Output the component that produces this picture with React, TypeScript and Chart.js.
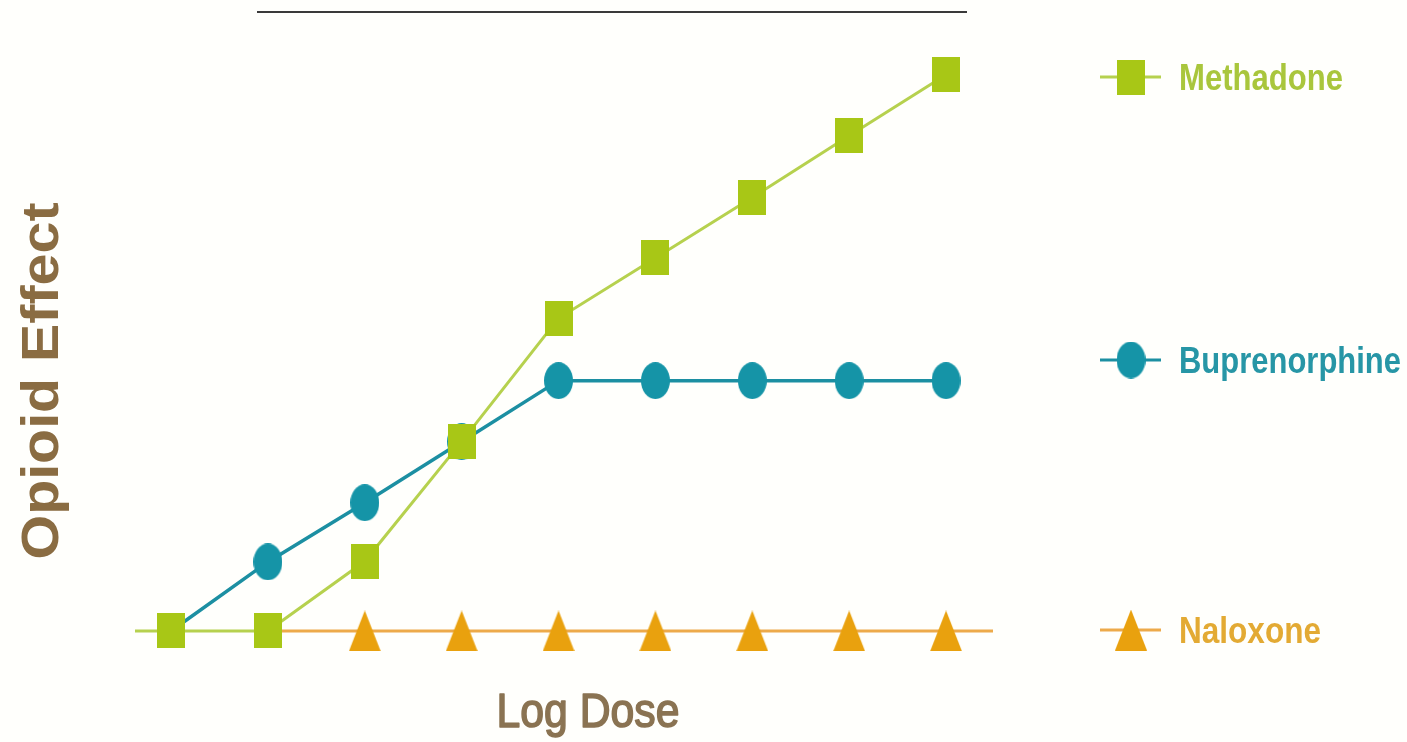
import React, { useEffect, useRef } from "react";
import { Chart, registerables } from "chart.js";

Chart.register(...registerables);

// ---- data ----
const doses = [1, 2, 3, 4, 5, 6, 7, 8, 9];
const methadone = [0, 0, 1.13, 3.07, 5.07, 6.05, 7.03, 8.03, 9.02];
const buprenorphine = [0, 1.12, 2.08, 3.07, 4.06, 4.06, 4.06, 4.06, 4.06];
const naloxone = [null, 0, 0, 0, 0, 0, 0, 0, 0];
const seriesNames = ["Methadone", "Buprenorphine", "Naloxone"];
const xAxisTitle = "Log Dose";
const yAxisTitle = "Opioid Effect";
const doseMin = 0.628;
const doseMax = 9.485;

const COLORS = {
  methadoneMarker: "#A8C716",
  methadoneLine: "#B6D14E",
  methadoneText: "#A9C63C",
  bupMarker: "#1594A7",
  bupLine: "#1C8FA2",
  bupText: "#2796A6",
  naloxMarker: "#E9A10E",
  naloxLine: "#EDAA4A",
  naloxText: "#E3AA33",
  axisText: "#8A6C42",
  xText: "#8A7352",
};

function makeMarker(shape: string, w: number, h: number, color: string) {
  const c = document.createElement("canvas");
  c.width = w;
  c.height = h;
  const ctx = c.getContext("2d")!;
  ctx.fillStyle = color;
  ctx.beginPath();
  if (shape === "square") {
    ctx.rect(0, 0, w, h);
  } else if (shape === "ellipse") {
    ctx.ellipse(w / 2, h / 2, w / 2, h / 2, 0, 0, Math.PI * 2);
  } else {
    ctx.moveTo(w / 2, 0);
    ctx.lineTo(w, h);
    ctx.lineTo(0, h);
    ctx.closePath();
  }
  ctx.fill();
  return c;
}

function fitText(
  ctx: CanvasRenderingContext2D,
  text: string,
  x: number,
  y: number,
  font: string,
  width: number,
  color: string,
  align: "left" | "center",
  strokeW = 0
) {
  ctx.save();
  ctx.font = font;
  ctx.fillStyle = color;
  ctx.strokeStyle = color;
  ctx.lineWidth = strokeW;
  ctx.lineJoin = "round";
  ctx.textBaseline = "alphabetic";
  ctx.textAlign = "left";
  const m = ctx.measureText(text).width;
  const sx = width / m;
  const startX = align === "center" ? x - width / 2 : x;
  ctx.translate(startX, y);
  ctx.scale(sx, 1);
  ctx.fillText(text, 0, 0);
  if (strokeW > 0) ctx.strokeText(text, 0, 0);
  ctx.restore();
}

export default function App() {
  const ref = useRef<HTMLCanvasElement | null>(null);

  useEffect(() => {
    document.body.style.margin = "0";
    const canvas = ref.current!;
    const squareImg = makeMarker("square", 28, 35, COLORS.methadoneMarker);
    const ellipseImg = makeMarker("ellipse", 29, 37, COLORS.bupMarker);
    const triImg = makeMarker("triangle", 32, 41, COLORS.naloxMarker);

    const methData = [{ x: doseMin, y: methadone[0] }, ...doses.map((d, i) => ({ x: d, y: methadone[i] }))];
    const bupData = doses.map((d, i) => ({ x: d, y: buprenorphine[i] }));
    const naloxData = [
      ...doses.map((d, i) => ({ x: d, y: naloxone[i] })),
      { x: doseMax, y: naloxone[naloxone.length - 1] },
    ];

    const decor = {
      id: "decor",
      beforeDraw(chart: any) {
        const ctx = chart.ctx;
        ctx.save();
        ctx.fillStyle = "#FFFFFC";
        ctx.fillRect(0, 0, chart.width, chart.height);
        ctx.restore();
      },
      afterDraw(chart: any) {
        const ctx: CanvasRenderingContext2D = chart.ctx;
        // top rule
        ctx.save();
        ctx.strokeStyle = "#3a3a3a";
        ctx.lineWidth = 2;
        ctx.beginPath();
        ctx.moveTo(257, 12);
        ctx.lineTo(967, 12);
        ctx.stroke();
        ctx.restore();

        // legend
        const items = [
          { name: seriesNames[0], y: 77, line: COLORS.methadoneLine, img: squareImg, text: COLORS.methadoneText, w: 164 },
          { name: seriesNames[1], y: 360, line: COLORS.bupLine, img: ellipseImg, text: COLORS.bupText, w: 222 },
          { name: seriesNames[2], y: 630, line: COLORS.naloxLine, img: triImg, text: COLORS.naloxText, w: 142 },
        ];
        items.forEach((it) => {
          ctx.save();
          ctx.strokeStyle = it.line;
          ctx.lineWidth = 3;
          ctx.beginPath();
          ctx.moveTo(1100, it.y);
          ctx.lineTo(1161, it.y);
          ctx.stroke();
          ctx.drawImage(it.img, 1131 - it.img.width / 2, it.y - it.img.height / 2);
          ctx.restore();
          fitText(ctx, it.name, 1179, it.y + 13, "bold 36px 'Liberation Sans', Arial, sans-serif", it.w, it.text, "left");
        });

        // x title
        fitText(ctx, xAxisTitle, 588, 727, "48px 'Liberation Sans', Arial, sans-serif", 183, COLORS.xText, "center", 1.6);

        // y title
        ctx.save();
        ctx.translate(58, 381);
        ctx.rotate(-Math.PI / 2);
        fitText(ctx, yAxisTitle, 0, 0, "bold 51px 'Liberation Sans', Arial, sans-serif", 357, COLORS.axisText, "center");
        ctx.restore();
      },
    };

    const chart = new Chart(canvas, {
      type: "line",
      data: {
        datasets: [
          {
            label: seriesNames[0],
            data: methData as any,
            borderColor: COLORS.methadoneLine,
            borderWidth: 3,
            pointStyle: squareImg as any,
            pointRadius: methData.map((p, i) => (i === 0 ? 0 : 14)),
            clip: false as any,
          },
          {
            label: seriesNames[1],
            data: bupData as any,
            borderColor: COLORS.bupLine,
            borderWidth: 3.5,
            pointStyle: ellipseImg as any,
            pointRadius: bupData.map((p, i) => (i === 0 ? 0 : 14)),
            clip: false as any,
          },
          {
            label: seriesNames[2],
            data: naloxData as any,
            borderColor: COLORS.naloxLine,
            borderWidth: 3,
            pointStyle: triImg as any,
            pointRadius: naloxData.map((p, i) => (i <= 1 || i === naloxData.length - 1 ? 0 : 14)),
            clip: false as any,
          },
        ],
      },
      options: {
        responsive: false,
        animation: false,
        spanGaps: false,
        layout: { padding: { left: 135, right: 414, top: 40, bottom: 62 } },
        plugins: { legend: { display: false }, tooltip: { enabled: false } },
        scales: {
          x: { type: "linear", min: doseMin, max: doseMax, display: false },
          y: { type: "linear", min: -0.795, max: 9.584, display: false },
        },
      },
      plugins: [decor],
    });
    return () => chart.destroy();
  }, []);

  return (
    <div style={{ width: 1407, height: 742 }}>
      <canvas ref={ref} width={1407} height={742} />
    </div>
  );
}
